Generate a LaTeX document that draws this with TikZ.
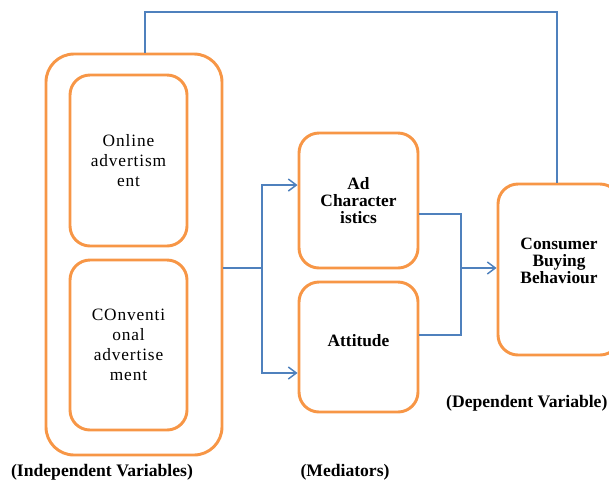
\documentclass[tikz,border=0pt]{standalone}
\usepackage{fontspec}
\setmainfont{Liberation Serif}
\newfontfamily\widefont[LetterSpace=5]{Liberation Serif}
\usetikzlibrary{arrows.meta, positioning}
\definecolor{BoxOrange}{HTML}{F79646}
\definecolor{LinkBlue}{HTML}{4F81BD}

\begin{document}
\begin{tikzpicture}[x=0.75pt, y=-0.75pt,
			every node/.style={align=center},
			var/.style={draw=BoxOrange, line width=2.2pt, rounded corners=15pt, fill=white, font=\widefont\fontsize{13}{15}\selectfont},
			med/.style={var, font=\bfseries\fontsize{13}{12.75}\selectfont},
			group/.style={draw=BoxOrange, line width=2.2pt, rounded corners=21pt},
			legend/.style={font=\bfseries\fontsize{13.2}{14}\selectfont},
			link/.style={draw=LinkBlue, line width=1.1pt},
			tip/.style={-{Straight Barb[length=6pt,width=9pt]}}
		]
			\useasboundingbox (0,0) rectangle (609,486);
			% independent variables
			\node at (134,254.5) [group, minimum width=132pt, minimum height=300.75pt] (nodeIndep) {};
			\node at (128.5,160.5) [var, minimum width=87.75pt, minimum height=128.25pt] (nodeOnline) {Online\\advertism\\ent};
			\node at (128.5,345) [var, minimum width=87.75pt, minimum height=127.5pt] (nodeConv) {COnventi\\onal\\advertise\\ment};
			\node at (102,472) [legend] (legIndep) {(Independent Variables)};
			% mediators
			\node at (358.5,200.5) [med, minimum width=89.25pt, minimum height=101.25pt] (nodeAd) {Ad\\Character\\istics};
			\node at (358.5,347) [med, minimum width=89.25pt, minimum height=97.5pt] (nodeAttitude) {Attitude\\[-2.25pt]};
			\node at (345,472) [legend] (legMed) {(Mediators)};
			% dependent variable
			\node at (559,269.5) [med, minimum width=91.5pt, minimum height=128.25pt] (nodeConsumer) {Consumer\\Buying\\Behaviour\\[0.75pt]};
			\node at (609,403) [legend, anchor=east, inner xsep=1pt] (legDep) {(Dependent Variable)};
			% connectors
			\coordinate (fork) at (262,268);
			\coordinate (join) at (461,268);
			\coordinate (topLeft) at (145,12);
			\coordinate (topRight) at (557,12);
			\draw[link] (nodeIndep.east |- fork) -- (fork);
			\draw[link, tip] (fork) |- ([yshift=11.6pt]nodeAd.west);
			\draw[link, tip] (fork) |- ([yshift=-19.5pt]nodeAttitude.west);
			\draw[link] ([yshift=-10pt]nodeAd.east) -| (join);
			\draw[link] ([yshift=9pt]nodeAttitude.east) -| (join);
			\draw[link, tip] (join) -- (nodeConsumer.west |- join);
			\draw[link] (nodeIndep.north -| topLeft) -- (topLeft) -- (topRight) -- (nodeConsumer.north -| topRight);
		\end{tikzpicture}
\end{document}
